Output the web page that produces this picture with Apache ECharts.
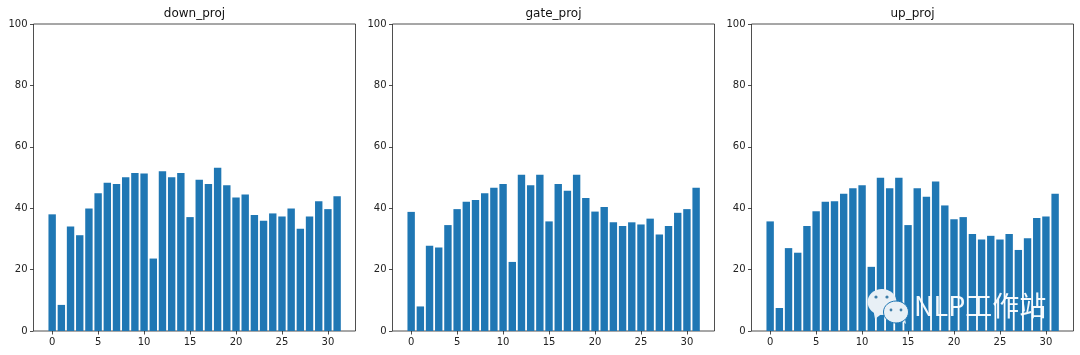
<!DOCTYPE html>
<html>
<head>
<meta charset="utf-8">
<title>proj</title>
<script src="https://cdn.jsdelivr.net/npm/echarts@6/dist/echarts.min.js"></script>
<style>
  html, body { margin: 0; padding: 0; background: #fff; }
  #canvas { width: 1080px; height: 355px; }
</style>
</head>
<body>
<div id="canvas"></div>
<script>
// values
const titles = ['down_proj', 'gate_proj', 'up_proj'];
const xTicks = [0, 5, 10, 15, 20, 25, 30];
const downProj = [38.0, 8.5, 34.0, 31.2, 39.9, 44.9, 48.3, 47.9, 50.1, 51.5, 51.3, 23.6, 52.0, 50.1, 51.5, 37.1,
  49.3, 47.9, 53.2, 47.5, 43.5, 44.5, 37.8, 35.9, 38.3, 37.3, 39.9, 33.3, 37.3, 42.3, 39.7, 43.9];
const gateProj = [38.8, 8.0, 27.8, 27.2, 34.5, 39.7, 42.1, 42.7, 44.9, 46.7, 47.9, 22.5, 50.9, 47.5, 50.9, 35.7,
  47.9, 45.7, 50.9, 43.3, 38.9, 40.4, 35.4, 34.2, 35.4, 34.7, 36.6, 31.4, 34.2, 38.5, 39.7, 46.7];
const upProj = [35.7, 7.5, 27.0, 25.5, 34.2, 39.0, 42.1, 42.3, 44.7, 46.5, 47.5, 20.9, 49.9, 46.5, 49.9, 34.5,
  46.5, 43.7, 48.7, 40.9, 36.4, 37.1, 31.6, 29.8, 31.0, 29.8, 31.6, 26.4, 30.2, 36.8, 37.3, 44.7];
const allValues = [downProj, gateProj, upProj];

const font = 'DejaVu Sans';
const lefts = [33.5, 392.5, 751.5];
const tickStyle = { show: true, length: 3.5, inside: false, lineStyle: { color: '#222', width: 0.8 } };

const myChart = echarts.init(document.getElementById('canvas'), null, { renderer: 'canvas' });

const option = {
  animation: false,
  title: titles.map((t, i) => ({
    text: t,
    left: lefts[i] + 156,
    textAlign: 'center',
    top: 3,
    textStyle: { fontFamily: font, fontSize: 12, fontWeight: 'normal', color: '#111' },
  })),
  grid: lefts.map((l) => ({
    left: l, top: 24, width: 322, height: 307,
    show: true, borderColor: '#222', borderWidth: 0.8, backgroundColor: '#fff',
  })),
  xAxis: lefts.map((l, i) => ({
    type: 'value',
    gridIndex: i,
    min: -2.03,
    max: 33,
    splitLine: { show: false },
    axisLine: { show: false, onZero: false },
    axisTick: Object.assign({ customValues: xTicks }, tickStyle),
    axisLabel: { customValues: xTicks, fontFamily: font, fontSize: 10, color: '#222', margin: 6 },
  })),
  yAxis: lefts.map((l, i) => ({
    type: 'value',
    gridIndex: i,
    min: 0,
    max: 100,
    interval: 20,
    splitLine: { show: false },
    axisLine: { show: false, onZero: false },
    axisTick: tickStyle,
    axisLabel: { fontFamily: font, fontSize: 10, color: '#222', margin: 6 },
  })),
  series: allValues.map((vals, i) => ({
    name: titles[i],
    type: 'bar',
    xAxisIndex: i,
    yAxisIndex: i,
    barWidth: 7.4,
    itemStyle: { color: '#1f77b4' },
    data: vals.map((v, k) => [k, v]),
  })),
  // the site watermark sitting over the third panel
  graphic: [
    { type: 'polygon', z: 100, shape: { points: [[873, 308], [875, 319], [884, 312]] }, style: { fill: '#e8f0f6' } },
    { type: 'ellipse', z: 100, shape: { cx: 882, cy: 302, rx: 14.5, ry: 13 }, style: { fill: '#e8f0f6' } },
    { type: 'circle', z: 100, shape: { cx: 876, cy: 297, r: 1.6 }, style: { fill: '#3f7ea8' } },
    { type: 'circle', z: 100, shape: { cx: 887, cy: 297, r: 1.6 }, style: { fill: '#3f7ea8' } },
    { type: 'polygon', z: 101, shape: { points: [[899, 318], [906, 324], [904, 314]] }, style: { fill: '#e8f0f6' } },
    { type: 'ellipse', z: 101, shape: { cx: 896, cy: 312, rx: 12.5, ry: 11 }, style: { fill: '#e8f0f6', stroke: '#1f77b4', lineWidth: 1 } },
    { type: 'circle', z: 102, shape: { cx: 891, cy: 310, r: 1.4 }, style: { fill: '#3f7ea8' } },
    { type: 'circle', z: 102, shape: { cx: 901, cy: 310, r: 1.4 }, style: { fill: '#3f7ea8' } },
    {
      type: 'text', z: 102, x: 914, y: 292,
      style: {
        text: 'NLP工作站',
        fontFamily: 'Noto Sans CJK SC',
        fontSize: 27,
        fontWeight: 400,
        fill: 'rgba(255,255,255,0.95)',
        shadowColor: 'rgba(60,60,60,0.9)',
        shadowBlur: 1,
        shadowOffsetX: 1,
        shadowOffsetY: 1,
      },
    },
  ],
};

myChart.setOption(option, true);
</script>
</body>
</html>
